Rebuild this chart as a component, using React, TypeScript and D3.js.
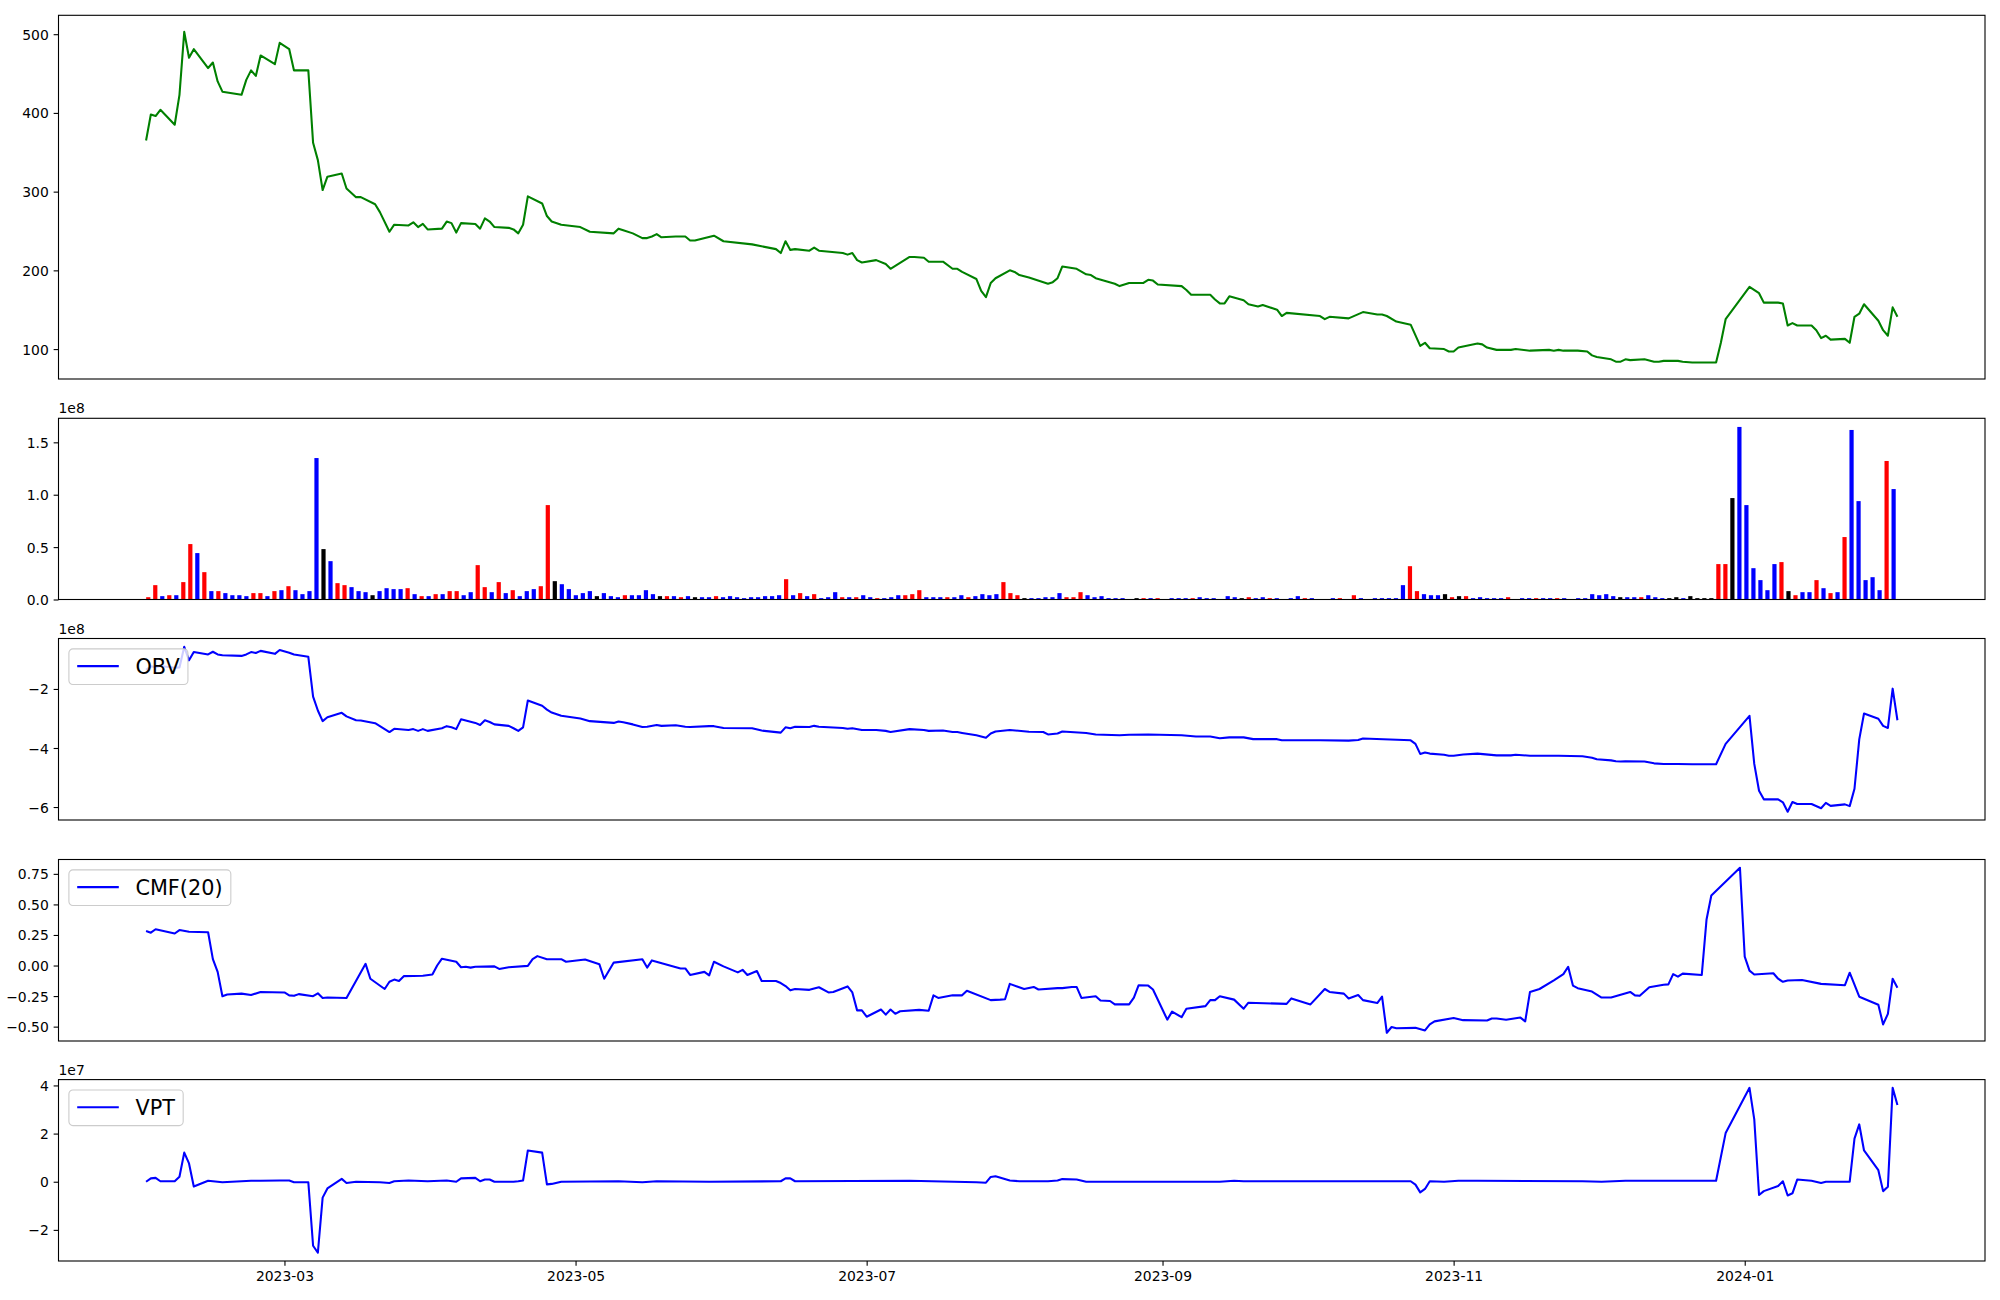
import React, { useEffect, useRef } from 'react';
import * as d3 from 'd3';

// ---------------- DATA ----------------
// Day offsets are days after 2023-01-31.
const baseDate = new Date(2023, 0, 31);

const priceDays = [0,1,2,3,6,7,8,9,10,13,14,15,16,20,21,22,23,24,27,28,30,31,34,35,36,37,38,41,42,44,45,48,49,51,52,55,56,57,58,59,62,63,64,65,66,69,70,71,72,73,76,77,78,79,80,83,84,85,87,91,93,98,99,100,102,104,105,106,107,108,111,113,114,115,119,121,127,132,133,134,135,136,139,140,141,146,147,148,149,150,153,155,156,160,161,163,164,167,169,170,171,174,175,176,177,178,181,182,183,185,189,190,191,192,195,197,198,199,203,204,206,209,210,211,212,217,218,219,223,224,225,226,227,230,231,233,234,237,238,239,246,247,248,252,255,258,259,260,262,265,267,268,269,272,273,274,275,279,280,281,283,286,287,290,294,295,296,297,300,302,303,304,307,308,309,310,311,314,316,317,318,321,322,324,329,330,331,336,338,339,342,343,344,345,346,349,350,351,352,353,356,357,358,359,360,363,364,365,366,367];
const priceVals = [365,398,396,404,385,423,503,470,481,457,464,440,427,423,442,454,447,473,462,489,481,454,454,362,340,302,319,323,304,293,293,284,274,249,258,257,261,255,259,252,253,262,260,248,260,259,253,266,262,255,254,252,247,258,294,285,269,262,258,255,249,247,253,251,247,241,241,243,246,242,243,243,238,238,244,237,233,227,222,237,226,227,225,229,225,222,220,222,213,210,213,208,202,217,217,216,211,211,202,202,198,189,174,166,184,190,200,198,194,191,183,185,190,205,202,195,194,190,183,180,184,184,188,187,182,180,175,169,169,163,158,158,167,162,157,154,156,150,142,146,142,138,141,139,147,144,144,142,135,131,104,108,101,100,97,97,102,107,106,102,99,99,100,98,99,98,99,98,98,97,92,90,87,84,84,87,86,87,84,84,85,85,84,83,83,108,138,179,171,159,159,158,130,133,130,130,124,114,117,112,113,108,141,145,157,136,124,117,153,141];

// Volume (units of 1e8), evenly spaced bars
const volVals = [
0.022,0.137,0.032,0.041,0.041,0.166,0.529,0.443,0.261,0.080,
0.080,0.061,0.041,0.041,0.032,0.061,0.061,0.032,0.080,0.089,
0.127,0.089,0.051,0.080,1.350,0.481,0.366,0.156,0.137,0.118,
0.080,0.070,0.041,0.080,0.108,0.099,0.099,0.108,0.051,0.032,
0.032,0.051,0.051,0.080,0.080,0.041,0.070,0.328,0.118,0.070,
0.166,0.061,0.089,0.032,0.080,0.099,0.127,0.901,0.175,0.146,
0.099,0.041,0.061,0.080,0.032,0.061,0.032,0.022,0.041,0.041,
0.041,0.089,0.051,0.032,0.032,0.032,0.022,0.032,0.022,0.022,
0.022,0.032,0.022,0.032,0.022,0.013,0.022,0.022,0.032,0.032,
0.041,0.194,0.041,0.061,0.032,0.051,0.013,0.022,0.070,0.022,
0.022,0.022,0.041,0.022,0.013,0.013,0.022,0.041,0.041,0.051,
0.089,0.022,0.022,0.022,0.022,0.022,0.041,0.022,0.032,0.051,
0.041,0.051,0.166,0.061,0.041,0.013,0.013,0.013,0.022,0.022,
0.061,0.022,0.022,0.070,0.041,0.022,0.032,0.013,0.013,0.013,
0,0.013,0.013,0.013,0.013,0,0.013,0.013,0.013,0.013,
0.022,0.013,0.013,0,0.032,0.022,0.013,0.022,0.013,0.022,
0.013,0.013,0,0.013,0.032,0.013,0.013,0,0,0.013,
0.013,0,0.041,0.013,0,0.013,0.013,0.013,0.013,0.137,
0.318,0.080,0.051,0.041,0.041,0.051,0.022,0.032,0.032,0.013,
0.022,0.013,0.013,0.013,0.022,0,0.013,0.013,0.013,0.013,
0.013,0.013,0.013,0,0.013,0.013,0.051,0.041,0.051,0.032,
0.022,0.022,0.022,0.022,0.041,0.022,0.013,0.013,0.022,0.013,
0.032,0.013,0.013,0.013,0.338,0.338,0.968,1.647,0.901,0.299,
0.185,0.089,0.338,0.357,0.080,0.041,0.070,0.070,0.185,0.108,
0.061,0.070,0.596,1.618,0.939,0.185,0.213,0.089,1.322,1.054];
const volColorCodes =
  "rrbrbrrbrb" + "rbbbbrrbrb" + "rbbbbkbrrb" + "bbkbbbbrbr" + "brbrrbbrrb" +
  "rbrbbbrrkb" + "bbbbkbbbrb" + "bbbkrbrbkb" + "b" +
  "rbbbbbbbbb" + "rbrbrbbbrb" + "rbbrbbbrrr" + "bbbrbbrbbb" + "brrrkbbbbb" +
  "rrrbbbbbbb" + "krbrbbbbrb" + "bbbbbkrbbr" + "bbbbrbbbbr" + "brbbbbbbbr" +
  "rbbbkrkrbb" + "bbbrbbbrbb" + "rbbbbbbbbk" + "bbrbbbkkbk" + "kkkrrkbbbb" +
  "bbrkrbbrbr" + "brbbbbbrb";
const volColorMap = { r: 'red', b: 'blue', k: 'black' };
const volFirstDay = 0.46;
const volLastDay = 366.2;

const obvDays = [0,1,2,3,6,7,8,9,10,13,14,15,16,20,21,22,23,24,27,28,30,31,34,35,36,37,38,41,42,44,45,48,49,51,52,55,56,57,58,59,62,63,64,65,66,69,70,71,72,73,76,77,78,79,80,83,84,85,87,91,93,98,99,100,102,104,105,107,108,111,113,114,118,119,121,127,129,133,134,135,136,139,140,141,146,147,148,150,153,155,156,160,163,164,167,169,170,171,174,175,176,177,178,181,185,188,189,191,192,197,199,204,206,210,217,220,223,225,227,230,232,237,238,246,252,254,255,265,266,267,268,269,272,273,274,276,279,283,286,287,290,294,296,301,303,304,307,308,309,310,314,316,318,321,324,329,331,336,337,338,339,342,343,344,345,346,349,351,352,353,356,357,358,359,360,363,364,365,366,367];
const obvVals = [-1.35,-1.23,-1.26,-1.22,-1.28,-1.27,-0.57,-1.03,-0.75,-0.83,-0.74,-0.83,-0.86,-0.88,-0.83,-0.75,-0.78,-0.71,-0.81,-0.68,-0.77,-0.83,-0.91,-2.26,-2.73,-3.09,-2.96,-2.81,-2.93,-3.06,-3.07,-3.16,-3.26,-3.46,-3.35,-3.39,-3.36,-3.42,-3.36,-3.42,-3.33,-3.26,-3.30,-3.36,-3.03,-3.15,-3.22,-3.06,-3.12,-3.20,-3.25,-3.33,-3.42,-3.30,-2.39,-2.57,-2.70,-2.80,-2.91,-3.00,-3.09,-3.15,-3.10,-3.13,-3.20,-3.29,-3.28,-3.22,-3.25,-3.23,-3.28,-3.29,-3.26,-3.26,-3.32,-3.33,-3.41,-3.48,-3.30,-3.33,-3.28,-3.29,-3.25,-3.28,-3.32,-3.35,-3.33,-3.39,-3.39,-3.42,-3.46,-3.36,-3.39,-3.42,-3.41,-3.46,-3.46,-3.49,-3.57,-3.61,-3.65,-3.51,-3.44,-3.39,-3.45,-3.46,-3.54,-3.51,-3.44,-3.49,-3.54,-3.57,-3.55,-3.54,-3.57,-3.61,-3.61,-3.67,-3.64,-3.64,-3.70,-3.70,-3.74,-3.74,-3.75,-3.73,-3.68,-3.74,-3.86,-4.20,-4.15,-4.19,-4.23,-4.26,-4.26,-4.22,-4.19,-4.25,-4.25,-4.23,-4.26,-4.26,-4.26,-4.28,-4.33,-4.38,-4.42,-4.45,-4.46,-4.45,-4.46,-4.52,-4.54,-4.54,-4.55,-4.55,-3.86,-2.91,-4.54,-5.45,-5.74,-5.74,-5.84,-6.16,-5.83,-5.90,-5.90,-6.04,-5.86,-5.96,-5.91,-5.97,-5.38,-3.71,-2.83,-3.01,-3.25,-3.32,-1.99,-3.06];

const cmfDays = [0,1,2,6,7,9,13,14,15,16,17,20,22,24,29,30,31,32,35,36,37,38,42,46,47,50,51,52,53,54,58,60,61,62,65,66,67,68,69,73,74,76,80,81,82,84,87,88,92,95,96,98,104,105,106,112,113,114,117,118,119,121,124,125,126,128,129,132,133,134,135,136,139,141,143,144,147,148,149,150,151,154,155,156,157,158,162,164,165,166,169,171,172,177,179,180,181,184,186,187,191,192,194,195,196,199,200,202,203,206,207,208,210,211,214,215,217,218,222,223,224,225,228,230,231,239,240,244,247,248,251,252,254,255,258,259,260,261,262,266,268,269,270,274,276,281,282,283,285,288,289,290,292,295,297,298,299,300,303,305,307,311,312,313,315,318,319,320,321,322,326,327,328,334,335,336,337,341,342,343,344,347,351,356,357,359,363,364,365,366,367];
const cmfVals = [0.283,0.269,0.297,0.262,0.290,0.276,0.272,0.052,-0.052,-0.251,-0.237,-0.230,-0.241,-0.216,-0.220,-0.244,-0.248,-0.234,-0.251,-0.227,-0.265,-0.262,-0.265,0.014,-0.108,-0.192,-0.133,-0.115,-0.126,-0.087,-0.084,-0.073,0.000,0.056,0.031,-0.014,-0.010,-0.017,-0.010,-0.007,-0.028,-0.014,-0.003,0.052,0.077,0.052,0.052,0.031,0.049,0.010,-0.108,0.024,0.052,-0.017,0.042,-0.024,-0.024,-0.077,-0.052,-0.080,0.031,-0.007,-0.056,-0.035,-0.077,-0.045,-0.126,-0.126,-0.143,-0.168,-0.203,-0.192,-0.199,-0.178,-0.220,-0.216,-0.171,-0.220,-0.367,-0.367,-0.419,-0.360,-0.402,-0.360,-0.395,-0.374,-0.363,-0.370,-0.244,-0.265,-0.244,-0.244,-0.206,-0.283,-0.279,-0.276,-0.150,-0.192,-0.175,-0.196,-0.185,-0.185,-0.175,-0.175,-0.265,-0.251,-0.286,-0.290,-0.318,-0.318,-0.262,-0.161,-0.164,-0.196,-0.443,-0.377,-0.423,-0.353,-0.332,-0.283,-0.283,-0.251,-0.279,-0.353,-0.304,-0.314,-0.269,-0.318,-0.192,-0.216,-0.230,-0.269,-0.241,-0.283,-0.307,-0.255,-0.550,-0.503,-0.513,-0.510,-0.531,-0.482,-0.457,-0.429,-0.447,-0.450,-0.433,-0.433,-0.443,-0.426,-0.457,-0.216,-0.192,-0.122,-0.070,-0.010,-0.164,-0.185,-0.213,-0.262,-0.262,-0.216,-0.244,-0.248,-0.178,-0.157,-0.154,-0.070,-0.091,-0.066,-0.077,0.377,0.573,0.800,0.073,-0.042,-0.073,-0.063,-0.108,-0.133,-0.122,-0.119,-0.150,-0.161,-0.059,-0.255,-0.321,-0.482,-0.395,-0.108,-0.182];

const vptDays = [0,1,2,3,6,7,8,9,10,13,16,20,22,24,28,30,31,34,35,36,37,38,41,42,44,49,51,52,55,59,63,65,66,69,70,71,72,73,77,78,79,80,83,84,85,87,99,104,107,118,133,134,135,136,160,174,176,177,178,181,183,189,191,192,195,197,225,228,230,252,265,266,267,268,269,272,275,279,301,305,310,329,331,336,337,338,339,342,343,344,345,346,349,351,352,357,358,359,360,363,364,365,366,367];
const vptVals = [0,0.14,0.16,0.02,0.02,0.21,1.21,0.76,-0.20,0.04,-0.02,0.02,0.04,0.04,0.05,0.05,-0.02,-0.02,-2.66,-2.95,-0.66,-0.28,0.12,-0.05,0,-0.02,-0.05,0.02,0.05,0.02,0.05,0,0.14,0.16,0.02,0.09,0.09,0,0,0.02,0.05,1.30,1.21,-0.11,-0.09,0,0.02,-0.02,0.02,0,0.02,0.14,0.14,0.02,0.04,-0.02,-0.04,0.20,0.23,0.05,0.02,0.02,0.05,0.11,0.09,0,0,0.04,0.02,0.02,0.02,-0.12,-0.44,-0.30,0.02,0,0.04,0.04,0.02,0,0.04,0.04,2.02,3.90,2.59,-0.55,-0.39,-0.18,0.02,-0.57,-0.48,0.09,0.04,-0.05,0,0,1.79,2.38,1.30,0.48,-0.39,-0.21,3.90,3.19];

const priceTicks = [100, 200, 300, 400, 500];
const volTicks = [0, 0.5, 1.0, 1.5];
const obvTicks = [-6, -4, -2];
const cmfTicks = [-0.5, -0.25, 0, 0.25, 0.5, 0.75];
const vptTicks = [-2, 0, 2, 4];

// ---------------- LAYOUT ----------------
const W = 2000, H = 1300;
const LEFT = 58.5, RIGHT = 1985;
const panelBoxes = [
  { top: 15.3, bottom: 379 },
  { top: 418.3, bottom: 599.5 },
  { top: 638.5, bottom: 820 },
  { top: 859.5, bottom: 1041 },
  { top: 1079.6, bottom: 1261 },
];
const FONT = 'DejaVu Sans, Verdana, sans-serif';
const TICK_FS = 13.9;
const TICK_LEN = 4.86;
const LEG_FS = 20.8;

const minus = (s: string) => s.replace(/-/g, '\u2212');

function padded(vals: number[]): [number, number] {
  const [lo, hi] = d3.extent(vals) as [number, number];
  const p = (hi - lo) * 0.05;
  return [lo - p, hi + p];
}

export default function App() {
  const ref = useRef<SVGSVGElement | null>(null);

  useEffect(() => {
    const svg = d3.select(ref.current);
    svg.selectAll('*').remove();
    svg.append('rect').attr('width', W).attr('height', H).attr('fill', 'white');

    const toDate = (d: number) => new Date(baseDate.getTime() + d * 86400000);
    const firstD = 0, lastD = 367;
    const span = lastD - firstD;
    const x = d3.scaleTime()
      .domain([toDate(firstD - span * 0.05), toDate(lastD + span * 0.05)])
      .range([LEFT, RIGHT]);

    const defs = svg.append('defs');
    panelBoxes.forEach((b, i) => {
      defs.append('clipPath').attr('id', `clip${i}`)
        .append('rect').attr('x', LEFT).attr('y', b.top)
        .attr('width', RIGHT - LEFT).attr('height', b.bottom - b.top);
    });

    const drawYAxis = (i: number, y: d3.ScaleLinear<number, number>, ticks: number[], fmt: (v: number) => string) => {
      const g = svg.append('g').attr('transform', `translate(${LEFT},0)`);
      const ax = d3.axisLeft(y).tickValues(ticks).tickSize(TICK_LEN).tickPadding(4.86).tickFormat((v: any) => minus(fmt(v)));
      g.call(ax);
      g.select('.domain').remove();
      g.selectAll('line').attr('stroke', 'black').attr('stroke-width', 1.1);
      g.selectAll('text').attr('font-family', FONT).attr('font-size', TICK_FS).attr('fill', 'black').attr('dy', '0.36em');
    };

    const drawFrame = (i: number) => {
      const b = panelBoxes[i];
      svg.append('rect').attr('x', LEFT).attr('y', b.top)
        .attr('width', RIGHT - LEFT).attr('height', b.bottom - b.top)
        .attr('fill', 'none').attr('stroke', 'black').attr('stroke-width', 1.1);
    };

    const offsetText = (i: number, txt: string) => {
      svg.append('text').attr('x', LEFT).attr('y', panelBoxes[i].top - 5)
        .attr('font-family', FONT).attr('font-size', TICK_FS).attr('fill', 'black').text(txt);
    };

    const drawLine = (i: number, days: number[], vals: number[], y: d3.ScaleLinear<number, number>, color: string) => {
      const pts = days.map((d, k) => [d, vals[k]] as [number, number]);
      const line = d3.line<[number, number]>().x(p => x(toDate(p[0]))).y(p => y(p[1]));
      svg.append('path').attr('d', line(pts) as string)
        .attr('fill', 'none').attr('stroke', color).attr('stroke-width', 2.08)
        .attr('stroke-linejoin', 'round').attr('stroke-linecap', 'butt')
        .attr('clip-path', `url(#clip${i})`);
    };

    const legend = (i: number, label: string) => {
      const b = panelBoxes[i];
      const pad = 10.4;
      const g = svg.append('g').attr('transform', `translate(${LEFT + pad},${b.top + pad})`);
      const rect = g.append('rect');
      g.append('line').attr('x1', 8.3).attr('x2', 49.9).attr('y1', 17.2).attr('y2', 17.2)
        .attr('stroke', 'blue').attr('stroke-width', 2.08);
      const t = g.append('text').attr('x', 66.5).attr('y', 24.7)
        .attr('font-family', FONT).attr('font-size', LEG_FS).attr('fill', 'black').text(label);
      const tl = (t.node() as SVGTextElement).getComputedTextLength();
      rect.attr('x', 0).attr('y', 0).attr('width', 66.5 + tl + 8.3).attr('height', 35.6)
        .attr('rx', 4).attr('ry', 4)
        .attr('fill', 'white').attr('fill-opacity', 0.8)
        .attr('stroke', '#cccccc').attr('stroke-width', 1.1);
    };

    // Panel 0: price
    {
      const b = panelBoxes[0];
      const y = d3.scaleLinear().domain(padded(priceVals)).range([b.bottom, b.top]);
      drawLine(0, priceDays, priceVals, y, 'green');
      drawYAxis(0, y, priceTicks, d3.format('d'));
      drawFrame(0);
    }
    // Panel 1: volume bars
    {
      const b = panelBoxes[1];
      const vmax = d3.max(volVals) as number;
      const y = d3.scaleLinear().domain([0, vmax * 1.05]).range([b.bottom, b.top]);
      const xi = d3.scaleLinear().domain([0, volVals.length - 1])
        .range([x(toDate(volFirstDay)), x(toDate(volLastDay))]);
      const bw = (xi(1) - xi(0)) * 0.6;
      svg.append('g').attr('clip-path', 'url(#clip1)').selectAll('rect')
        .data(volVals).join('rect')
        .attr('x', (_, k) => xi(k) - bw / 2)
        .attr('width', bw)
        .attr('y', v => y(v))
        .attr('height', v => y(0) - y(v))
        .attr('fill', (_, k) => (volColorMap as any)[volColorCodes[k]]);
      drawYAxis(1, y, volTicks, d3.format('.1f'));
      drawFrame(1);
      offsetText(1, '1e8');
    }
    // Panel 2: OBV
    {
      const b = panelBoxes[2];
      const y = d3.scaleLinear().domain(padded(obvVals)).range([b.bottom, b.top]);
      drawLine(2, obvDays, obvVals, y, 'blue');
      drawYAxis(2, y, obvTicks, d3.format('d'));
      drawFrame(2);
      offsetText(2, '1e8');
      legend(2, 'OBV');
    }
    // Panel 3: CMF
    {
      const b = panelBoxes[3];
      const y = d3.scaleLinear().domain(padded(cmfVals)).range([b.bottom, b.top]);
      drawLine(3, cmfDays, cmfVals, y, 'blue');
      drawYAxis(3, y, cmfTicks, d3.format('.2f'));
      drawFrame(3);
      legend(3, 'CMF(20)');
    }
    // Panel 4: VPT
    {
      const b = panelBoxes[4];
      const y = d3.scaleLinear().domain(padded(vptVals)).range([b.bottom, b.top]);
      drawLine(4, vptDays, vptVals, y, 'blue');
      drawYAxis(4, y, vptTicks, d3.format('d'));
      drawFrame(4);
      offsetText(4, '1e7');
      legend(4, 'VPT');
      const gx = svg.append('g').attr('transform', `translate(0,${b.bottom})`);
      gx.call(d3.axisBottom(x).ticks(d3.timeMonth.every(2)).tickSize(TICK_LEN).tickPadding(4.86)
        .tickFormat((d: any) => d3.timeFormat('%Y-%m')(d)));
      gx.select('.domain').remove();
      gx.selectAll('line').attr('stroke', 'black').attr('stroke-width', 1.1);
      gx.selectAll('text').attr('font-family', FONT).attr('font-size', TICK_FS).attr('fill', 'black');
    }
  }, []);

  return (
    <div style={{ position: 'absolute', left: 0, top: 0 }}>
      <svg ref={ref} width={W} height={H} style={{ display: 'block' }} />
    </div>
  );
}
